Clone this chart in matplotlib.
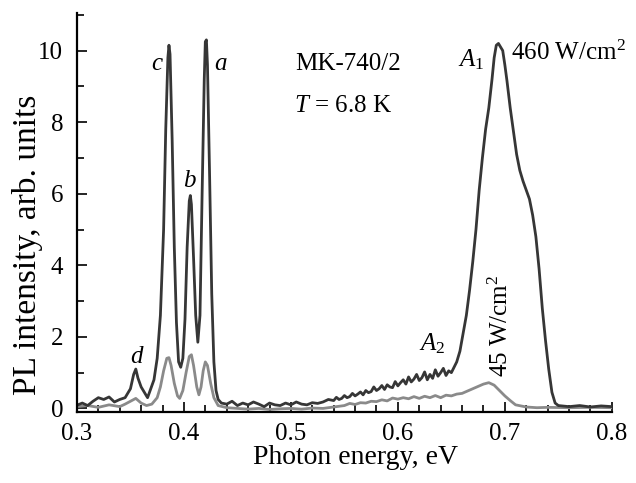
import matplotlib
matplotlib.use('Agg')
import matplotlib.pyplot as plt
from matplotlib.ticker import MultipleLocator

plt.rcParams['font.family'] = ['Liberation Serif', 'DejaVu Serif']
plt.rcParams['mathtext.fontset'] = 'custom'
plt.rcParams['mathtext.rm'] = 'Liberation Serif'
plt.rcParams['mathtext.it'] = 'Liberation Serif:italic'

# 460 W/cm^2 spectrum (dark)
e_hi = [0.300, 0.305, 0.310, 0.315, 0.320, 0.325, 0.330, 0.335, 0.340, 0.345,
        0.350, 0.353, 0.355, 0.357, 0.360, 0.363, 0.366, 0.369, 0.372, 0.375,
        0.378, 0.381, 0.383, 0.385, 0.386, 0.387, 0.389, 0.391, 0.393, 0.395,
        0.397, 0.399, 0.401, 0.403, 0.405, 0.406, 0.407, 0.409, 0.411, 0.413,
        0.415, 0.417, 0.419, 0.420, 0.421, 0.422, 0.424, 0.426, 0.428, 0.430,
        0.432, 0.435, 0.440, 0.445, 0.450, 0.455, 0.460, 0.465, 0.470, 0.475,
        0.480, 0.485, 0.490, 0.495, 0.500, 0.505, 0.510, 0.515, 0.520, 0.525,
        0.530, 0.535,
        0.5400, 0.5425, 0.5450, 0.5475, 0.5500, 0.5525, 0.5550, 0.5575,
        0.5600, 0.5625, 0.5650, 0.5675, 0.5700, 0.5725, 0.5750, 0.5775,
        0.5800, 0.5825, 0.5850, 0.5875, 0.5900, 0.5925, 0.5950, 0.5975,
        0.6000, 0.6025, 0.6050, 0.6075, 0.6100, 0.6125, 0.6150, 0.6175,
        0.6200, 0.6225, 0.6250, 0.6275, 0.6300, 0.6325, 0.6350, 0.6375,
        0.6400, 0.6425, 0.6450, 0.6475, 0.6500, 0.6525, 0.6550,
        0.658, 0.661, 0.664, 0.667,
        0.670, 0.673, 0.676, 0.679, 0.682, 0.685, 0.688, 0.690, 0.692, 0.694,
        0.696, 0.698, 0.700, 0.702, 0.705, 0.708, 0.711, 0.714, 0.717, 0.720,
        0.723, 0.726, 0.729, 0.732, 0.735, 0.738, 0.741, 0.744, 0.747, 0.750,
        0.760, 0.770, 0.780, 0.790, 0.800]
i_hi = [0.09, 0.15, 0.08, 0.20, 0.30, 0.25, 0.32, 0.18, 0.25, 0.30,
        0.55, 0.95, 1.10, 0.85, 0.60, 0.45, 0.30, 0.55, 0.80, 1.40,
        2.60, 5.00, 7.80, 9.80, 10.15, 9.90, 7.50, 4.50, 2.40, 1.30,
        1.15, 1.40, 2.50, 4.50, 5.80, 5.95, 5.70, 4.20, 2.60, 1.85,
        2.60, 6.00, 9.20, 10.25, 10.30, 9.60, 6.50, 3.20, 1.30, 0.50,
        0.25, 0.15, 0.12, 0.20, 0.08, 0.15, 0.10, 0.18, 0.12, 0.05,
        0.15, 0.10, 0.08, 0.15, 0.10, 0.18, 0.12, 0.10, 0.16, 0.14,
        0.18, 0.25,
        0.22, 0.31, 0.25, 0.28, 0.36, 0.30, 0.33, 0.42,
        0.35, 0.40, 0.46, 0.38, 0.50, 0.44, 0.47, 0.60,
        0.50, 0.55, 0.64, 0.53, 0.66, 0.60, 0.58, 0.75,
        0.63, 0.72, 0.80, 0.68, 0.88, 0.74, 0.82, 0.95,
        0.78, 0.86, 1.02, 0.80, 0.95, 0.84, 1.08, 0.90,
        1.00, 1.12, 0.92, 1.05, 1.00, 1.15, 1.30,
        1.60, 2.10, 2.60, 3.30,
        4.10, 5.00, 6.10, 7.00, 7.80, 8.40, 9.20, 9.80, 10.15, 10.20,
        10.10, 10.00, 9.60, 9.15, 8.40, 7.75, 7.10, 6.65, 6.35, 6.10,
        5.85, 5.40, 4.80, 3.90, 2.80, 1.90, 1.10, 0.45, 0.15, 0.08,
        0.05, 0.08, 0.04, 0.07, 0.05]

# 45 W/cm^2 spectrum (grey)
e_lo = [0.300, 0.310, 0.320, 0.330, 0.340, 0.345, 0.350, 0.355, 0.360, 0.365,
        0.370, 0.375, 0.378, 0.381, 0.384, 0.386, 0.388, 0.391, 0.394, 0.396,
        0.399, 0.402, 0.405, 0.407, 0.409, 0.412, 0.414, 0.416, 0.418, 0.420,
        0.422, 0.425, 0.428, 0.432, 0.440, 0.450, 0.460, 0.470, 0.480, 0.490,
        0.500, 0.510, 0.520, 0.530, 0.540,
        0.550, 0.555, 0.560, 0.565, 0.570, 0.575, 0.580, 0.585, 0.590, 0.595,
        0.600, 0.605, 0.610, 0.615, 0.620, 0.625, 0.630, 0.635, 0.640, 0.645,
        0.650, 0.655, 0.660, 0.670, 0.680, 0.685,
        0.690, 0.695, 0.700, 0.705, 0.710, 0.720, 0.730, 0.740, 0.760, 0.780,
        0.800]
i_lo = [0.05, 0.08, 0.03, 0.10, 0.05, 0.12, 0.20, 0.28, 0.15, 0.08,
        0.12, 0.30, 0.60, 1.05, 1.40, 1.42, 1.20, 0.70, 0.35, 0.28,
        0.50, 1.00, 1.45, 1.50, 1.20, 0.60, 0.38, 0.60, 1.05, 1.30,
        1.20, 0.70, 0.30, 0.08, 0.02, 0.00, -0.02, 0.00, -0.03, -0.01,
        0.00, -0.02, 0.01, 0.00, 0.04,
        0.08, 0.14, 0.11, 0.16, 0.15, 0.20, 0.19, 0.24, 0.21, 0.29,
        0.26, 0.30, 0.27, 0.33, 0.28, 0.34, 0.30, 0.36, 0.30, 0.37,
        0.35, 0.40, 0.42, 0.55, 0.68, 0.72,
        0.65, 0.50, 0.35, 0.22, 0.10, 0.04, 0.02, 0.03, 0.02, 0.03,
        0.02]

fig = plt.figure(figsize=(6.36, 4.83), dpi=100)
ax = fig.add_axes([0.121, 0.147, 0.841, 0.826])

ax.plot(e_lo, i_lo, color='#8a8a8a', lw=2.0)
ax.plot(e_hi, i_hi, color='#363636', lw=2.0)

ax.set_xlim(0.3, 0.8)
ax.set_ylim(-0.1, 11.05)
ax.xaxis.set_major_locator(MultipleLocator(0.1))
ax.xaxis.set_minor_locator(MultipleLocator(0.02))
ax.yaxis.set_major_locator(MultipleLocator(2))
ax.yaxis.set_minor_locator(MultipleLocator(1))
ax.tick_params(which='both', direction='in', length=7, width=1.2, labelsize=18)
ax.tick_params(which='minor', length=5)
ax.tick_params(axis='x', pad=8)
ax.tick_params(axis='y', pad=10)
for s in ['top', 'right']:
    ax.spines[s].set_visible(False)
for s in ['left', 'bottom']:
    ax.spines[s].set_linewidth(1.6)

ax.set_xlabel('Photon energy, eV', fontsize=20)
ax.set_ylabel('PL intensity, arb. units', fontsize=24)
ax.xaxis.set_label_coords(0.5215, -0.083)
ax.yaxis.set_label_coords(-0.0636, 0.419)

fs = 18
ax.text(0.3748, 9.62, '$c$', fontsize=fs, ha='center', va='center')
ax.text(0.4346, 9.62, '$a$', fontsize=fs, ha='center', va='center')
ax.text(0.4056, 6.36, '$b$', fontsize=fs, ha='center', va='center')
ax.text(0.356, 1.43, '$d$', fontsize=fs, ha='center', va='center')
ax.text(0.553, 9.62, 'MK-740/2', fontsize=fs, ha='center', va='center')
ax.text(0.5028, 8.45, '$T$ = 6.8 K', fontsize=fs, ha='left', va='center')
ax.text(0.669, 9.75, '$A_1$', fontsize=fs, ha='center', va='center')
ax.text(0.7056, 9.95, '460 W/cm$^2$', fontsize=fs, ha='left', va='center')
ax.text(0.632, 1.8, '$A_2$', fontsize=fs, ha='center', va='center')
ax.text(0.696, 2.3, '45 W/cm$^2$', fontsize=fs, ha='center', va='center',
        rotation=90)

fig.savefig('out.png', dpi=100)
